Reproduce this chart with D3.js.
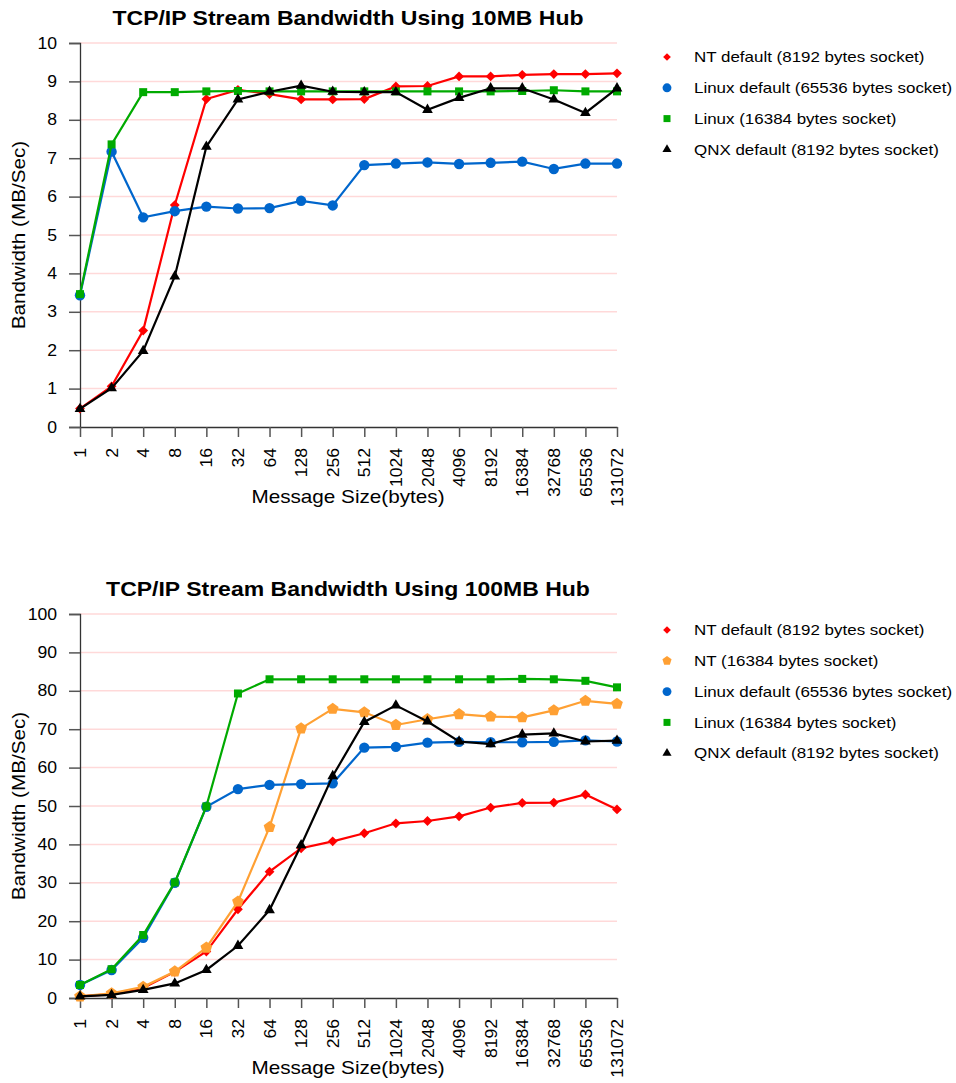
<!DOCTYPE html>
<html>
<head>
<meta charset="utf-8">
<script src="https://cdn.jsdelivr.net/npm/d3@7"></script>
<style>
  body { margin: 0; background: #fff; }
  svg { font-family: "Liberation Sans", Arial, sans-serif; }
</style>
</head>
<body>
<svg id="chart" width="956" height="1083"></svg>
<script>
// message sizes (bytes)
var sizes = ["1", "2", "4", "8", "16", "32", "64", "128", "256", "512", "1024",
    "2048", "4096", "8192", "16384", "32768", "65536", "131072"];

// 10MB hub
var nt10 = [0.48, 1.06, 2.51, 5.78, 8.54, 8.78, 8.67, 8.53, 8.53, 8.54, 8.87, 8.88, 9.13, 9.13, 9.17, 9.19, 9.19, 9.21];
var linuxDef10 = [3.43, 7.17, 5.46, 5.62, 5.74, 5.69, 5.70, 5.89, 5.77, 6.82, 6.86, 6.89, 6.85, 6.88, 6.91, 6.72, 6.86, 6.86];
var linux16k10 = [3.46, 7.36, 8.72, 8.72, 8.74, 8.75, 8.74, 8.74, 8.74, 8.74, 8.74, 8.74, 8.74, 8.74, 8.75, 8.77, 8.74, 8.74];
var qnx10 = [0.47, 1.01, 1.98, 3.92, 7.30, 8.53, 8.73, 8.89, 8.73, 8.72, 8.72, 8.26, 8.57, 8.82, 8.82, 8.53, 8.18, 8.82];

// 100MB hub
var nt100 = [0.4, 1.0, 2.6, 6.8, 12.1, 23.1, 32.9, 39.0, 40.8, 42.9, 45.5, 46.1, 47.3, 49.6, 50.8, 50.9, 53.0, 49.1];
var nt16k100 = [0.4, 1.2, 2.9, 6.9, 13.1, 25.1, 44.5, 70.2, 75.3, 74.4, 71.1, 72.6, 73.9, 73.3, 73.1, 74.9, 77.4, 76.6];
var linuxDef100 = [3.4, 7.3, 15.7, 30.0, 49.8, 54.4, 55.5, 55.7, 55.9, 65.2, 65.4, 66.5, 66.7, 66.6, 66.6, 66.7, 67.1, 66.8];
var linux16k100 = [3.4, 7.5, 16.4, 30.1, 49.9, 79.3, 83.0, 83.0, 83.0, 83.0, 83.0, 83.0, 83.0, 83.0, 83.1, 83.0, 82.6, 80.9];
var qnx100 = [0.4, 0.8, 2.1, 3.8, 7.3, 13.6, 22.9, 39.8, 57.8, 71.9, 76.2, 72.0, 66.8, 66.1, 68.6, 68.9, 66.8, 67.0];

var yTicks10 = [0, 1, 2, 3, 4, 5, 6, 7, 8, 9, 10];
var yTicks100 = [0, 10, 20, 30, 40, 50, 60, 70, 80, 90, 100];

// square-ish diamond and pentagon markers
var symbolDiamond = {
    draw: function(ctx, size) {
        var r = Math.sqrt(size / 2);
        ctx.moveTo(0, -r); ctx.lineTo(r, 0); ctx.lineTo(0, r); ctx.lineTo(-r, 0);
        ctx.closePath();
    }
};
var symbolPentagon = {
    draw: function(ctx, size) {
        var r = Math.sqrt(size / 2.38);
        for (var k = 0; k < 5; k++) {
            var a = -Math.PI / 2 + k * 2 * Math.PI / 5;
            if (k == 0) ctx.moveTo(r * Math.cos(a), r * Math.sin(a));
            else ctx.lineTo(r * Math.cos(a), r * Math.sin(a));
        }
        ctx.closePath();
    }
};

var styles = {
    nt: { color: "#ff0000", symbol: symbolDiamond, size: 48, legSize: 30 },
    nt16k: { color: "#ffa033", symbol: symbolPentagon, size: 90, legSize: 55 },
    linuxDef: { color: "#0066cc", symbol: d3.symbolCircle, size: 85, legSize: 62 },
    linux16k: { color: "#00aa00", symbol: d3.symbolSquare, size: 64, legSize: 49 },
    qnx: { color: "#000000", symbol: d3.symbolTriangle, size: 50, legSize: 36 }
};

var sx = 1.15; // reference font is wider than Liberation Sans
var svg = d3.select("#chart");

function drawChart(top, legTop, title, yMax, yTicks, series) {
    var x = d3.scalePoint().domain(sizes).range([80, 617]);
    var y = d3.scaleLinear().domain([0, yMax]).range([top + 384, top]);
    var g = svg.append("g");

    g.append("text")
        .attr("transform", "translate(348," + (top - 18) + ") scale(" + sx + ",1)")
        .attr("text-anchor", "middle")
        .attr("font-size", "20px").attr("font-weight", "bold")
        .text(title);

    // gridlines
    g.append("g").selectAll("line")
        .data(yTicks.slice(1))
        .enter().append("line")
        .attr("x1", 80).attr("x2", 617)
        .attr("y1", (d) => y(d)).attr("y2", (d) => y(d))
        .attr("stroke", "#ffd9d9").attr("stroke-width", 1.5);

    // y axis
    var yAxis = g.append("g")
        .attr("transform", "translate(80,0)")
        .call(d3.axisLeft(y).tickValues(yTicks).tickSize(11));
    yAxis.select(".domain").attr("stroke", "#333").attr("stroke-width", 1.3);
    yAxis.selectAll(".tick line").attr("stroke", "#555").attr("stroke-width", 1.5);
    yAxis.selectAll("text").attr("font-size", "16px").attr("fill", "#000")
        .attr("font-family", "Liberation Sans, Arial, sans-serif")
        .attr("x", 0)
        .attr("transform", "translate(-23,0) scale(1.1,1)");

    // x axis
    var xAxis = g.append("g")
        .attr("transform", "translate(0," + (top + 384) + ")")
        .call(d3.axisBottom(x).tickSize(10).tickSizeOuter(0));
    xAxis.select(".domain").attr("stroke", "#333").attr("stroke-width", 1.3);
    xAxis.selectAll(".tick line").attr("stroke", "#555").attr("stroke-width", 1.5);
    xAxis.selectAll("text")
        .attr("font-size", "16px").attr("fill", "#000")
        .attr("font-family", "Liberation Sans, Arial, sans-serif")
        .attr("transform", "translate(0,21) rotate(-90) scale(1.1,1)")
        .attr("text-anchor", "end")
        .attr("x", 0).attr("y", 0).attr("dy", "0.35em");

    // axis titles
    g.append("text")
        .attr("transform", "translate(348," + (top + 460) + ") scale(" + sx + ",1)")
        .attr("text-anchor", "middle").attr("font-size", "18px")
        .text("Message Size(bytes)");
    g.append("text")
        .attr("transform", "translate(25," + (top + 192) + ") rotate(-90) scale(" + sx + ",1)")
        .attr("text-anchor", "middle").attr("font-size", "18px")
        .text("Bandwidth (MB/Sec)");

    var line = d3.line().x((d, i) => x(sizes[i])).y((d) => y(d));

    series.forEach(function(s) {
        var st = styles[s.key];
        g.append("path")
            .datum(s.values)
            .attr("d", line)
            .attr("fill", "none")
            .attr("stroke", st.color)
            .attr("stroke-width", 2.2);
        g.append("g").selectAll("path")
            .data(s.values)
            .enter().append("path")
            .attr("transform", (d, i) => "translate(" + x(sizes[i]) + "," + y(d) + ")")
            .attr("d", d3.symbol().type(st.symbol).size(st.size))
            .attr("fill", st.color);
    });

    // legend
    var leg = g.append("g").selectAll("g")
        .data(series)
        .enter().append("g")
        .attr("transform", (d, i) => "translate(667," + (legTop + i * 30.8) + ")");
    leg.append("path")
        .attr("d", (d) => d3.symbol().type(styles[d.key].symbol).size(styles[d.key].legSize)())
        .attr("fill", (d) => styles[d.key].color);
    leg.append("text")
        .attr("transform", "translate(27,0) scale(1.13,1)")
        .attr("dy", "0.35em")
        .attr("font-size", "15px")
        .text((d) => d.name);
}

drawChart(43, 57, "TCP/IP Stream Bandwidth Using 10MB Hub", 10, yTicks10, [
    { key: "nt", name: "NT default (8192 bytes socket)", values: nt10 },
    { key: "linuxDef", name: "Linux default (65536 bytes socket)", values: linuxDef10 },
    { key: "linux16k", name: "Linux (16384 bytes socket)", values: linux16k10 },
    { key: "qnx", name: "QNX default (8192 bytes socket)", values: qnx10 }
]);

drawChart(614, 630, "TCP/IP Stream Bandwidth Using 100MB Hub", 100, yTicks100, [
    { key: "nt", name: "NT default (8192 bytes socket)", values: nt100 },
    { key: "nt16k", name: "NT (16384 bytes socket)", values: nt16k100 },
    { key: "linuxDef", name: "Linux default (65536 bytes socket)", values: linuxDef100 },
    { key: "linux16k", name: "Linux (16384 bytes socket)", values: linux16k100 },
    { key: "qnx", name: "QNX default (8192 bytes socket)", values: qnx100 }
]);
</script>
</body>
</html>
